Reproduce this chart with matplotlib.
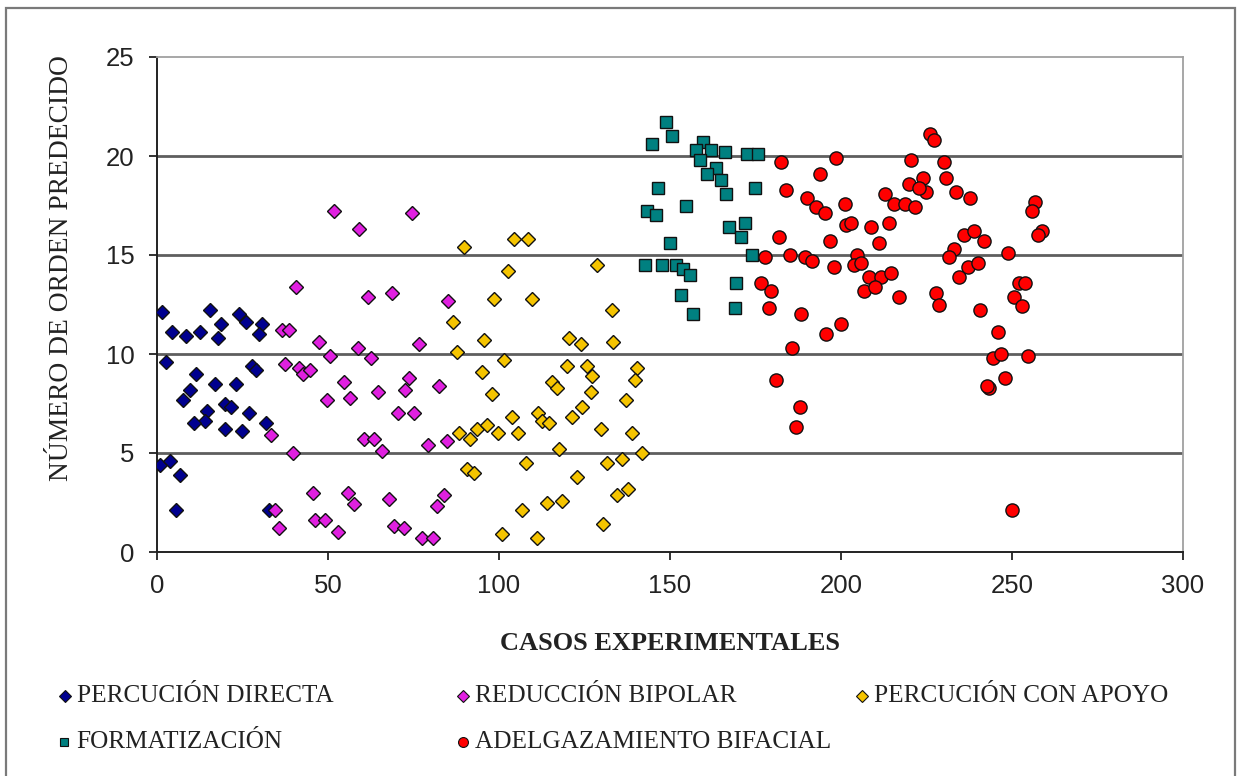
import matplotlib
matplotlib.use("Agg")
import matplotlib.pyplot as plt
from matplotlib.lines import Line2D
from matplotlib.patches import Rectangle

# PERCUCIÓN DIRECTA
pd_x = [1.5, 4.4, 8.5, 12.7, 15.6, 18.6, 17.7, 23.9, 26.0, 30.7, 29.8, 2.6, 27.7, 28.9, 11.5, 9.7, 7.7,
        17.1, 23.0, 20.0, 21.5, 14.5, 13.9, 10.9, 26.8, 31.9, 20.0, 24.8, 0.9, 3.8, 6.8, 5.6, 32.7]
pd_y = [12.1, 11.1, 10.9, 11.1, 12.2, 11.5, 10.8, 12.0, 11.6, 11.5, 11.0, 9.6, 9.4, 9.2, 9.0, 8.2, 7.7,
        8.5, 8.5, 7.5, 7.3, 7.1, 6.6, 6.5, 7.0, 6.5, 6.2, 6.1, 4.4, 4.6, 3.9, 2.1, 2.1]

# REDUCCIÓN BIPOLAR
rb_x = [40.7, 36.6, 38.6, 47.4, 37.5, 41.6, 42.8, 44.8, 49.8, 33.4, 39.8, 45.7, 34.6, 35.8, 46.3, 49.0,
        61.7, 68.8, 85.2, 58.9, 50.6, 62.6, 76.7, 54.8, 56.5, 64.7, 73.8, 72.4, 82.6, 70.6, 75.0, 60.4,
        63.5, 65.9, 79.3, 84.9, 55.9, 57.7, 67.9, 83.8, 82.0, 53.0, 69.4, 72.1, 77.6, 80.8, 51.8, 59.2, 74.7]
rb_y = [13.4, 11.2, 11.2, 10.6, 9.5, 9.3, 9.0, 9.2, 7.7, 5.9, 5.0, 3.0, 2.1, 1.2, 1.6, 1.6,
        12.9, 13.1, 12.7, 10.3, 9.9, 9.8, 10.5, 8.6, 7.8, 8.1, 8.8, 8.2, 8.4, 7.0, 7.0, 5.7,
        5.7, 5.1, 5.4, 5.6, 3.0, 2.4, 2.7, 2.9, 2.3, 1.0, 1.3, 1.2, 0.7, 0.7, 17.2, 16.3, 17.1]

# PERCUCIÓN CON APOYO
pa_x = [89.8, 104.4, 108.4, 102.6, 128.6, 98.5, 109.6, 133.0, 86.5, 95.6, 120.4, 123.9, 133.3, 87.7,
        101.5, 95.0, 119.9, 125.7, 127.1, 140.3, 139.7, 115.5, 116.9, 97.9, 126.8, 137.1, 124.3, 121.3,
        103.8, 111.4, 112.6, 114.6, 88.3, 91.5, 93.5, 96.4, 99.7, 105.5, 129.8, 138.8, 117.5, 141.7,
        107.8, 131.5, 136.0, 90.6, 92.7, 122.8, 134.5, 137.6, 114.0, 118.4, 106.7, 130.4, 100.9, 111.1]
pa_y = [15.4, 15.8, 15.8, 14.2, 14.5, 12.8, 12.8, 12.2, 11.6, 10.7, 10.8, 10.5, 10.6, 10.1,
        9.7, 9.1, 9.4, 9.4, 8.9, 9.3, 8.7, 8.6, 8.3, 8.0, 8.1, 7.7, 7.3, 6.8,
        6.8, 7.0, 6.6, 6.5, 6.0, 5.7, 6.2, 6.4, 6.0, 6.0, 6.2, 6.0, 5.2, 5.0,
        4.5, 4.5, 4.7, 4.2, 4.0, 3.8, 2.9, 3.2, 2.5, 2.6, 2.1, 1.4, 0.9, 0.7]

# FORMATIZACIÓN
fo_x = [148.7, 150.5, 144.7, 159.7, 157.6, 161.9, 166.1, 158.8, 163.4, 160.7, 164.9, 166.3, 172.4,
        175.7, 146.5, 174.8, 154.6, 143.2, 145.9, 167.2, 171.9, 170.8, 149.9, 173.9, 142.7, 147.7,
        151.7, 153.8, 155.8, 169.3, 153.2, 156.7, 169.0]
fo_y = [21.7, 21.0, 20.6, 20.7, 20.3, 20.3, 20.2, 19.8, 19.4, 19.1, 18.8, 18.1, 20.1,
        20.1, 18.4, 18.4, 17.5, 17.2, 17.0, 16.4, 16.6, 15.9, 15.6, 15.0, 14.5, 14.5,
        14.5, 14.3, 14.0, 13.6, 13.0, 12.0, 12.3]

# ADELGAZAMIENTO BIFACIAL
ab_x = [182.4, 183.8, 190.0, 181.8, 177.8, 185.0, 189.5, 176.6, 179.5, 178.9, 188.3, 198.5, 193.8,
        220.4, 226.0, 227.1, 230.1, 230.6, 233.6, 237.6, 224.0, 219.8, 224.8, 222.8, 212.8, 215.4,
        218.6, 221.6, 192.6, 195.2, 201.2, 201.4, 202.9, 208.7, 214.1, 196.7, 211.1, 191.5, 197.9,
        204.6, 203.7, 205.8, 208.1, 211.7, 214.5, 206.7, 209.9, 216.9, 227.7, 228.6, 233.0, 231.5,
        235.9, 238.8, 241.8, 234.5, 237.0, 240.0, 240.6, 200.0, 195.5, 185.6, 181.0, 188.0, 186.8,
        256.7, 255.8, 258.7, 257.6, 248.7, 252.0, 253.7, 250.5, 252.9, 245.9, 244.4, 246.8, 254.6,
        243.2, 242.8, 247.9, 249.9]
ab_y = [19.7, 18.3, 17.9, 15.9, 14.9, 15.0, 14.9, 13.6, 13.2, 12.3, 12.0, 19.9, 19.1,
        19.8, 21.1, 20.8, 19.7, 18.9, 18.2, 17.9, 18.9, 18.6, 18.2, 18.4, 18.1, 17.6,
        17.6, 17.4, 17.4, 17.1, 17.6, 16.5, 16.6, 16.4, 16.6, 15.7, 15.6, 14.7, 14.4,
        15.0, 14.5, 14.6, 13.9, 13.9, 14.1, 13.2, 13.4, 12.9, 13.1, 12.5, 15.3, 14.9,
        16.0, 16.2, 15.7, 13.9, 14.4, 14.6, 12.2, 11.5, 11.0, 10.3, 8.7, 7.3, 6.3,
        17.7, 17.2, 16.2, 16.0, 15.1, 13.6, 13.6, 12.9, 12.4, 11.1, 9.8, 10.0, 9.9,
        8.3, 8.4, 8.8, 2.1]

series_names = ["PERCUCIÓN DIRECTA", "REDUCCIÓN BIPOLAR", "PERCUCIÓN CON APOYO",
                "FORMATIZACIÓN", "ADELGAZAMIENTO BIFACIAL"]
x_ticks = [0, 50, 100, 150, 200, 250, 300]
y_ticks = [0, 5, 10, 15, 20, 25]

styles = [
    dict(marker="D", color="#00008f", ms=7.5),
    dict(marker="D", color="#e020e0", ms=7.5),
    dict(marker="D", color="#f5c400", ms=7.5),
    dict(marker="s", color="#008080", ms=8.5),
    dict(marker="o", color="#ff0000", ms=9.5),
]
data = [(pd_x, pd_y), (rb_x, rb_y), (pa_x, pa_y), (fo_x, fo_y), (ab_x, ab_y)]

W, H = 1238, 776
fig = plt.figure(figsize=(W / 100, H / 100), dpi=100)
ax = fig.add_axes([157 / W, 1 - 552 / H, (1183 - 157) / W, (552 - 57) / H])

for (xs, ys), st in zip(data, styles):
    ax.plot(xs, ys, linestyle="none", marker=st["marker"], markersize=st["ms"],
            markerfacecolor=st["color"], markeredgecolor="#111111", markeredgewidth=1.0, zorder=3)

ax.set_xlim(0, 300)
ax.set_ylim(0, 25)
ax.set_xticks(x_ticks)
ax.set_yticks(y_ticks)
for y in y_ticks[1:-1]:
    ax.axhline(y, color="#5e5e5e", linewidth=2.0, zorder=1)

for side in ["top", "right"]:
    ax.spines[side].set_color("#a0a0a0")
    ax.spines[side].set_linewidth(1.3)
for side in ["left", "bottom"]:
    ax.spines[side].set_color("#222222")
    ax.spines[side].set_linewidth(1.4)

ax.tick_params(direction="out", length=6, width=1.3, color="#222222", pad=10)
for lab in ax.get_xticklabels() + ax.get_yticklabels():
    lab.set_family("Liberation Sans")
    lab.set_fontsize(18.5)
    lab.set_color("#222222")

fig.text(62 / W, 1 - 268 / H, "NÚMERO DE ORDEN PREDECIDO", rotation=90, ha="center", va="center",
         family="Liberation Serif", fontsize=19.8, color="#222222")
fig.text(670 / W, 1 - 643 / H, "CASOS EXPERIMENTALES", ha="center", va="center",
         family="Liberation Serif", fontweight="bold", fontsize=19, color="#222222")

# legend, placed by hand like the Excel original
leg_pos = [(65, 696), (463, 696), (862, 696), (64, 742), (463, 742)]
for name, st, (lx, ly) in zip(series_names, styles, leg_pos):
    fig.add_artist(Line2D([lx / W], [1 - ly / H], transform=fig.transFigure, linestyle="none",
                          marker=st["marker"], markersize=st["ms"] * 0.75,
                          markerfacecolor=st["color"], markeredgecolor="#111111",
                          markeredgewidth=0.8))
    fig.text((lx + 12) / W, 1 - ly / H, name, ha="left", va="center",
             family="Liberation Serif", fontsize=18.2, color="#222222")

# outer chart border
fig.add_artist(Rectangle((6 / W, -0.02), (1235 - 6) / W, 1.02 - 8 / H, transform=fig.transFigure,
                         fill=False, edgecolor="#7a7a7a", linewidth=1.6))

fig.savefig("out.png", dpi=100)
